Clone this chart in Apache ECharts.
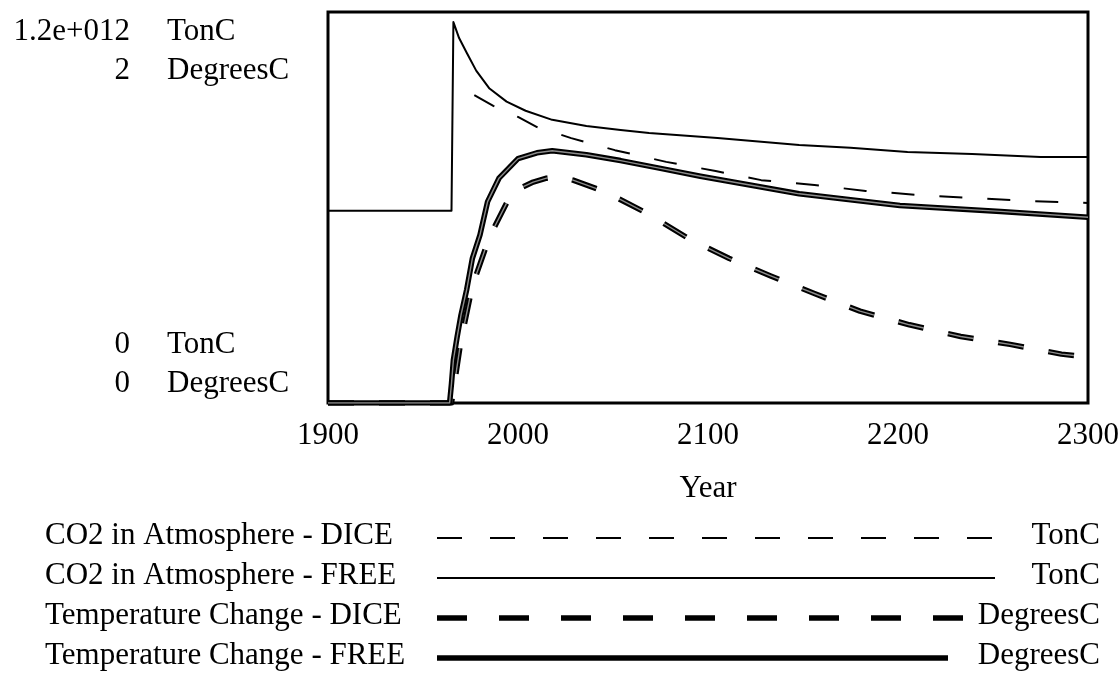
<!DOCTYPE html>
<html>
<head>
<meta charset="utf-8">
<script src="https://cdn.jsdelivr.net/npm/echarts@6/dist/echarts.min.js"></script>
<style>
  html, body { margin: 0; padding: 0; background: #fff; }
  #chart { width: 1120px; height: 673px; }
</style>
</head>
<body>
<div id="chart"></div>
<script>
// ---- data -------------------------------------------------------------
const co2FreeYears = [1900, 1965, 1966, 1969, 1973, 1978, 1985, 1994, 2004, 2018, 2036, 2054, 2069, 2105, 2148, 2175, 2205, 2239, 2275, 2300];
const co2FreeTonC  = [5.9e11, 5.9e11, 11.69e11, 11.2e11, 10.75e11, 10.2e11, 9.65e11, 9.25e11, 8.97e11, 8.69e11, 8.50e11, 8.38e11, 8.29e11, 8.13e11, 7.92e11, 7.83e11, 7.70e11, 7.64e11, 7.55e11, 7.55e11];

const co2DiceYears = [1977, 1987, 2000, 2010, 2028, 2051, 2078, 2104, 2128, 2156, 2183, 2212, 2239, 2268, 2300];
const co2DiceTonC  = [9.45e11, 9.12e11, 8.78e11, 8.47e11, 8.13e11, 7.76e11, 7.40e11, 7.12e11, 6.84e11, 6.69e11, 6.51e11, 6.38e11, 6.29e11, 6.20e11, 6.14e11];

const tempDiceYears = [1900, 1965, 1970, 1976, 1985, 1997, 2008, 2015, 2022, 2029, 2046, 2068, 2090, 2111, 2133, 2156, 2180, 2206, 2233, 2259, 2286, 2300];
const tempDiceC     = [0, 0, 0.32, 0.60, 0.85, 1.08, 1.13, 1.15, 1.16, 1.14, 1.08, 0.97, 0.84, 0.74, 0.65, 0.56, 0.47, 0.40, 0.34, 0.30, 0.25, 0.235];

const tempFreeYears = [1900, 1964, 1965, 1966, 1968, 1970, 1973, 1976, 1980, 1984, 1990, 2000, 2010, 2018, 2036, 2054, 2075, 2096, 2125, 2148, 2175, 2201, 2254, 2300];
const tempFreeC     = [0, 0, 0.10, 0.22, 0.34, 0.45, 0.58, 0.74, 0.86, 1.03, 1.15, 1.25, 1.28, 1.29, 1.27, 1.24, 1.20, 1.16, 1.11, 1.07, 1.04, 1.01, 0.98, 0.95];

const co2TickLabels  = ['0', '1.2e+012'];
const tempTickLabels = ['0', '2'];
const seriesNames    = ['CO2 in Atmosphere - DICE', 'CO2 in Atmosphere - FREE', 'Temperature Change - DICE', 'Temperature Change - FREE'];
const seriesUnits    = ['TonC', 'TonC', 'DegreesC', 'DegreesC'];

// ---- styling ----------------------------------------------------------
const FONT = '"Liberation Serif", "Times New Roman", serif';
const FS = 31;
const LH = 39;
const INK = '#000';

const lineStyles = [
  { width: 2, type: [23, 25] },
  { width: 2, type: 'solid' },
  { width: 5.5, type: [26, 25] },
  { width: 5.5, type: 'solid' }
];
// dash pattern of the key samples
const keyDash = [[25, 28], null, [30, 32], null];
const keyLineEnd = [992, 995, 963, 948];

function pairs(xs, ys) { return xs.map((x, i) => [x, ys[i]]); }

const seriesData = [
  { data: pairs(co2DiceYears, co2DiceTonC), axis: 0 },
  { data: pairs(co2FreeYears, co2FreeTonC), axis: 0 },
  { data: pairs(tempDiceYears, tempDiceC), axis: 1 },
  { data: pairs(tempFreeYears, tempFreeC), axis: 1 }
];

const GRID = { left: 328, right: 32, top: 12, bottom: 270 };
const NUM_RIGHT = 130;   // right edge of the value column
const UNIT_LEFT = 167;   // left edge of the unit column

// Scale text: the visible line sits in one row of a block centred on
// the tick, so the text stacks as two rows under the top of the frame
// and two rows above its bottom.
const rich = {
  t: { fontFamily: FONT, fontSize: FS, color: INK, lineHeight: LH },
  e: { fontFamily: FONT, fontSize: FS, color: INK, lineHeight: LH }
};
function block(text, row, rows) {
  const lines = [];
  for (let i = 0; i < rows; i++) lines.push(i === row ? '{t|' + text + '}' : '{e| }');
  return lines.join('\n');
}
function firstRow(text, isMax) { return isMax ? block(text, 1, 2) : block(text, 0, 4); }
function secondRow(text, isMax) { return isMax ? block(text, 3, 4) : block(text, 0, 2); }

function scaleAxis(min, max, align, margin, formatter) {
  return {
    type: 'value', min: min, max: max, interval: max - min, position: 'left',
    axisLine: { show: false }, axisTick: { show: false }, splitLine: { show: false },
    axisLabel: { align: align, verticalAlign: 'middle', margin: margin, formatter: formatter, rich: rich }
  };
}

// ---- key drawn under the plot -----------------------------------------
const keyRows = [538, 578, 618, 658];
const keyGraphics = [];
seriesNames.forEach((name, i) => {
  const y = keyRows[i];
  keyGraphics.push({
    type: 'text', left: 45, top: y - 18,
    style: { text: name, font: FS + 'px ' + FONT, fill: INK }
  });
  keyGraphics.push({
    type: 'line',
    shape: { x1: 437, y1: y, x2: keyLineEnd[i], y2: y },
    style: { stroke: INK, lineWidth: lineStyles[i].width, lineDash: keyDash[i] }
  });
  keyGraphics.push({
    type: 'text', right: 20, top: y - 18,
    style: { text: seriesUnits[i], font: FS + 'px ' + FONT, fill: INK, textAlign: 'right' }
  });
});

// thick temperature strokes carry a light core, giving them an outlined look
const series = [];
seriesData.forEach((s, i) => {
  series.push({
    type: 'line', name: seriesNames[i], yAxisIndex: s.axis, data: s.data, symbol: 'none',
    lineStyle: { color: INK, width: lineStyles[i].width, type: lineStyles[i].type, cap: 'butt', join: 'round' },
    z: 3 + i
  });
  if (lineStyles[i].width > 3) {
    series.push({
      type: 'line', name: seriesNames[i] + ' core', yAxisIndex: s.axis, data: s.data, symbol: 'none',
      silent: true,
      lineStyle: { color: '#fff', opacity: 0.55, width: 1.4, type: lineStyles[i].type, cap: 'butt', join: 'round' },
      z: 3 + i
    });
  }
});

const chart = echarts.init(document.getElementById('chart'), null, { renderer: 'canvas' });
chart.setOption({
  animation: false,
  backgroundColor: '#fff',
  grid: Object.assign({
    show: true, borderColor: INK, borderWidth: 3, backgroundColor: 'transparent',
    containLabel: false, outerBoundsMode: 'none'
  }, GRID),
  xAxis: {
    type: 'value', min: 1900, max: 2300, interval: 100,
    axisLine: { show: false }, axisTick: { show: false }, splitLine: { show: false },
    axisLabel: { color: INK, fontFamily: FONT, fontSize: FS, margin: 17, formatter: v => String(v) },
    name: 'Year', nameLocation: 'middle', nameGap: 70,
    nameTextStyle: { color: INK, fontFamily: FONT, fontSize: FS }
  },
  yAxis: [
    scaleAxis(0, 1.2e12, 'right', GRID.left - NUM_RIGHT,
      v => firstRow(v > 0 ? co2TickLabels[1] : co2TickLabels[0], v > 0)),
    scaleAxis(0, 2, 'right', GRID.left - NUM_RIGHT,
      v => secondRow(v > 0 ? tempTickLabels[1] : tempTickLabels[0], v > 0)),
    scaleAxis(0, 1.2e12, 'left', GRID.left - UNIT_LEFT, v => firstRow(seriesUnits[0], v > 0)),
    scaleAxis(0, 2, 'left', GRID.left - UNIT_LEFT, v => secondRow(seriesUnits[2], v > 0))
  ],
  series: series,
  graphic: keyGraphics
});
</script>
</body>
</html>
